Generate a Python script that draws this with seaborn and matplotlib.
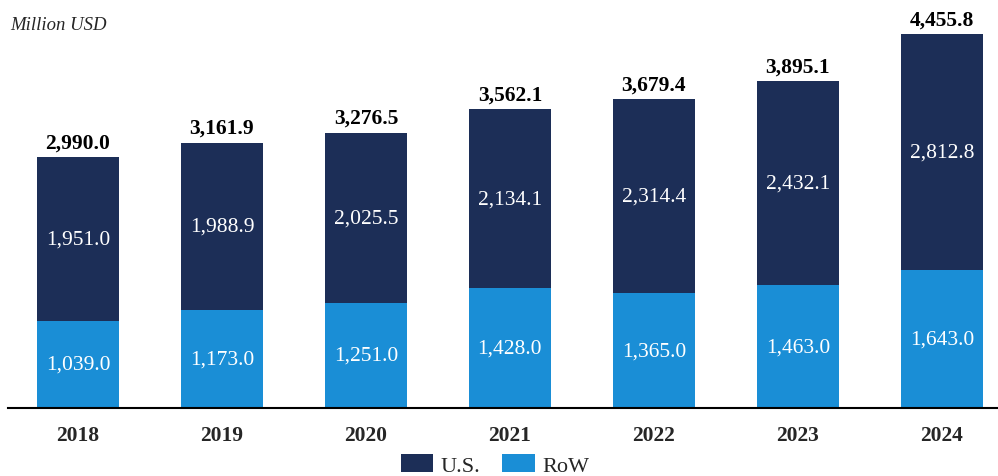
import numpy as np
import pandas as pd
import matplotlib.pyplot as plt
import seaborn as sns

sns.set_theme(style="white")
plt.rcParams['font.family'] = ['Liberation Serif', 'DejaVu Serif']

# 数据
years = ['2018', '2019', '2020', '2021', '2022', '2023', '2024']
us = [1951.0, 1988.9, 2025.5, 2134.1, 2314.4, 2432.1, 2812.8]
row = [1039.0, 1173.0, 1251.0, 1428.0, 1365.0, 1463.0, 1643.0]
totals = [2990.0, 3161.9, 3276.5, 3562.1, 3679.4, 3895.1, 4455.8]

df = pd.DataFrame({'year': years, 'US': us, 'RoW': row, 'total': totals})

c_us = '#1c2e57'
c_row = '#1a8ed6'

fig = plt.figure(figsize=(9.98, 4.77), dpi=100)
ax = fig.add_axes([8 / 998, 68 / 477, 990 / 998, 409 / 477])

# 堆叠柱: 先画总高度(U.S.颜色), 再画RoW覆盖底部
sns.barplot(data=df, x='year', y='total', color=c_us, width=0.57,
            saturation=1, linewidth=0, ax=ax, label='U.S.')
sns.barplot(data=df, x='year', y='RoW', color=c_row, width=0.57,
            saturation=1, linewidth=0, ax=ax, label='RoW')

ax.set_xlim(-0.486, 6.39)
ax.set_ylim(0, 4875)

for i in range(len(years)):
    ax.text(i, totals[i] + 60, f'{totals[i]:,.1f}', ha='center', va='bottom',
            fontsize=15.5, fontweight='bold', color='black')
    ax.text(i, row[i] + us[i] / 2, f'{us[i]:,.1f}', ha='center', va='center',
            fontsize=15.5, color='white')
    ax.text(i, row[i] / 2, f'{row[i]:,.1f}', ha='center', va='center',
            fontsize=15.5, color='white')

ax.set_xlabel('')
ax.set_ylabel('')
ax.set_yticks([])
ax.tick_params(axis='x', length=0, pad=12)
for lab in ax.get_xticklabels():
    lab.set_fontsize(15.5)
    lab.set_fontweight('bold')
for s in ['top', 'right', 'left']:
    ax.spines[s].set_visible(False)
ax.spines['bottom'].set_color('black')
ax.spines['bottom'].set_linewidth(1.5)

fig.text(10 / 998, 1 - 25 / 477, 'Million USD', fontsize=13.5, style='italic',
         va='center', ha='left')

ax.legend(loc='center', bbox_to_anchor=((495 - 8) / 990, -0.14), ncol=2,
          frameon=False, fontsize=16, handlelength=1.45, handleheight=0.85,
          columnspacing=1.0, handletextpad=0.35)

plt.savefig('out.png', dpi=100)
